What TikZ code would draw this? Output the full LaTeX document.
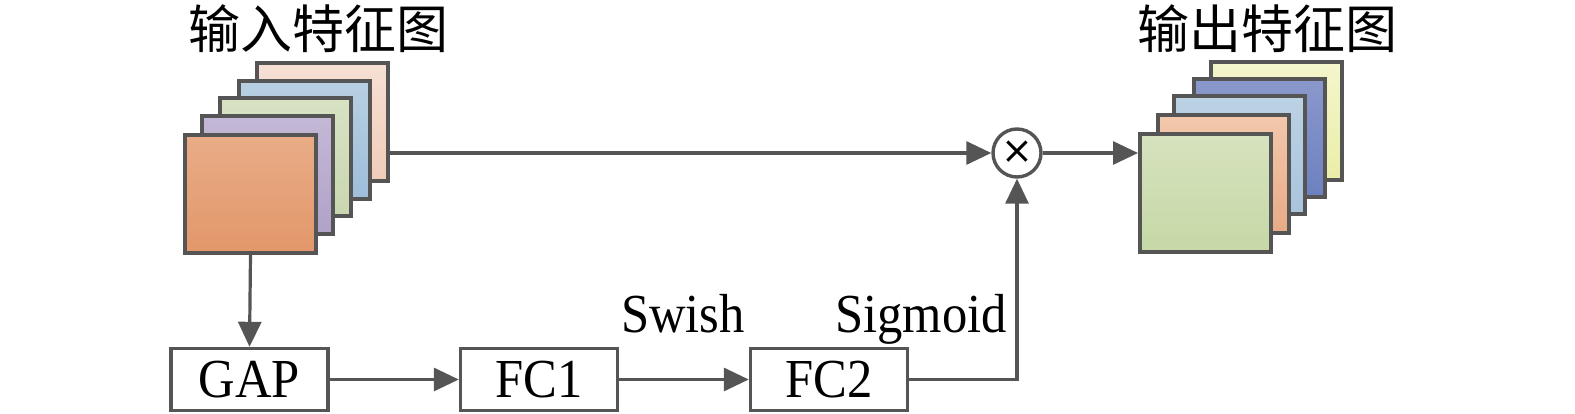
\documentclass[tikz,border=0pt]{standalone}
\usepackage{fontspec}
\setmainfont{Liberation Serif}[FakeStretch=0.92]
\newfontfamily\cjk{Noto Sans CJK SC}
\newfontfamily\symf{DejaVu Sans}
\usetikzlibrary{arrows.meta}
\definecolor{ln}{HTML}{555555}
\definecolor{ia}{HTML}{E9AC86}\definecolor{ib}{HTML}{E2976A}
\definecolor{ja}{HTML}{C4B8D6}\definecolor{jb}{HTML}{B0A2C8}
\definecolor{ka}{HTML}{D8E2C4}\definecolor{kb}{HTML}{C9D7B0}
\definecolor{la}{HTML}{B8D0E2}\definecolor{lb}{HTML}{9EBEDA}
\definecolor{ma}{HTML}{F6E0D4}\definecolor{mb}{HTML}{F0CCB8}
\definecolor{oa}{HTML}{D6E2BE}\definecolor{ob}{HTML}{C6D8A6}
\definecolor{pa}{HTML}{F2C8AC}\definecolor{pb}{HTML}{E8AA86}
\definecolor{qa}{HTML}{BCD2E4}\definecolor{qb}{HTML}{A8C4DC}
\definecolor{ra}{HTML}{8A98CC}\definecolor{rb}{HTML}{6E80C0}
\definecolor{sa}{HTML}{F4F6CC}\definecolor{sb}{HTML}{EAEEA8}
\begin{document}
\begin{tikzpicture}[x=1pt,y=-1pt,
 fmap/.style={draw=ln, line width=4pt, minimum width=131pt, minimum height=118pt, anchor=north west, inner sep=0pt},
 blk/.style={draw=ln, line width=3.4pt, minimum width=157pt, minimum height=62pt, inner sep=0pt, font=\fontsize{55}{60}\selectfont},
 arr/.style={draw=ln, line width=3.2pt, -{Triangle[length=25pt,width=23pt]}},
 lbl/.style={font=\fontsize{55}{60}\selectfont, anchor=base, inner sep=0pt},
 ttl/.style={font=\cjk\fontsize{52}{60}\selectfont, inner sep=0pt}]
\useasboundingbox (0,0) rectangle (1575,414);
% input feature maps
\node[fmap, top color=ma, bottom color=mb] (in5) at (255,61) {};
\node[fmap, top color=la, bottom color=lb] (in4) at (237,79) {};
\node[fmap, top color=ka, bottom color=kb] (in3) at (218,96) {};
\node[fmap, top color=ja, bottom color=jb] (in2) at (200,114) {};
\node[fmap, top color=ia, bottom color=ib] (in1) at (183,133) {};
% output feature maps
\node[fmap, top color=sa, bottom color=sb] (out5) at (1209,60) {};
\node[fmap, top color=ra, bottom color=rb] (out4) at (1192,77) {};
\node[fmap, top color=qa, bottom color=qb] (out3) at (1172,94) {};
\node[fmap, top color=pa, bottom color=pb] (out2) at (1156,113) {};
\node[fmap, top color=oa, bottom color=ob] (out1) at (1138,132) {};
% titles
\node[ttl] (tin) at (318,29) {输入特征图};
\node[ttl] (tout) at (1267,29) {输出特征图};
% multiply
\node[circle, draw=ln, line width=3.4pt, minimum size=48pt, inner sep=0pt, fill=white] (mul) at (1017,153) {};
\node[inner sep=0pt, font=\symf\fontsize{38}{38}\selectfont] (mulx) at (1017,152) {×};
% blocks
\node[blk] (gap) at (249.5,379.5) {GAP};
\node[blk] (fc1) at (539,379.5) {FC1};
\node[blk] (fc2) at (829,379.5) {FC2};
% labels
\node[lbl] (sw) at (683,332) {Swish};
\node[lbl] (sg) at (921,332) {Sigmoid};
% connectors
\draw[arr] (in5.east |- mul.west) -- (mul.west);
\draw[arr] (mul.east) -- (out1.west |- mul.east);
\draw[arr] (in1.south) -- (gap.north);
\draw[arr] (gap.east) -- (fc1.west);
\draw[arr] (fc1.east) -- (fc2.west);
\draw[arr] (fc2.east) -| (mul.south);
\end{tikzpicture}
\end{document}
